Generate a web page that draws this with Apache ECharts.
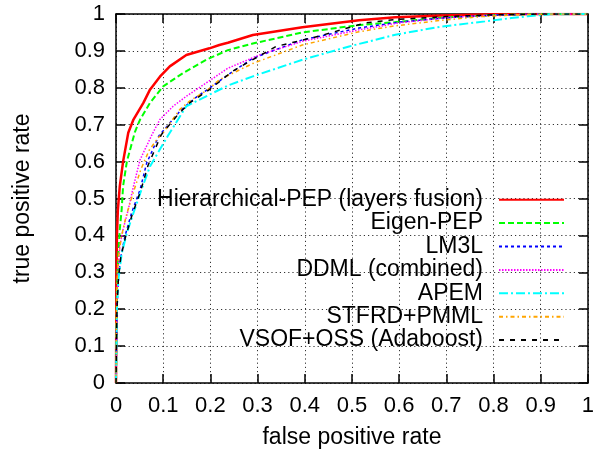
<!DOCTYPE html>
<html>
<head>
<meta charset="utf-8">
<script src="https://cdn.jsdelivr.net/npm/echarts@6/dist/echarts.min.js"></script>
<style>html,body{margin:0;padding:0;background:#fff}#c{width:597px;height:454px}</style>
</head>
<body>
<div id="c"></div>
<script>
const seriesNames = ['Hierarchical-PEP (layers fusion)', 'Eigen-PEP', 'LM3L', 'DDML (combined)', 'APEM', 'STFRD+PMML', 'VSOF+OSS (Adaboost)'];
const xTicks = [0, 0.1, 0.2, 0.3, 0.4, 0.5, 0.6, 0.7, 0.8, 0.9, 1];
const yTicks = [0, 0.1, 0.2, 0.3, 0.4, 0.5, 0.6, 0.7, 0.8, 0.9, 1];

const fprHier = [0, 0.001, 0.002, 0.004, 0.008, 0.015, 0.026, 0.037, 0.058, 0.072, 0.093, 0.114, 0.149, 0.198, 0.219, 0.237, 0.29, 0.395, 0.515, 0.592, 0.69, 0.8, 0.9, 1];
const tprHier = [0, 0.3, 0.4, 0.47, 0.533, 0.6, 0.678, 0.714, 0.759, 0.795, 0.83, 0.858, 0.889, 0.907, 0.916, 0.922, 0.943, 0.964, 0.983, 0.991, 0.996, 0.999, 1, 1];

const fprEigen = [0, 0.002, 0.005, 0.008, 0.012, 0.015, 0.023, 0.04, 0.051, 0.072, 0.1, 0.142, 0.191, 0.237, 0.29, 0.395, 0.515, 0.592, 0.69, 0.8, 0.9, 1];
const tprEigen = [0, 0.25, 0.35, 0.416, 0.47, 0.533, 0.6, 0.68, 0.714, 0.759, 0.804, 0.84, 0.876, 0.902, 0.92, 0.95, 0.97, 0.978, 0.99, 0.997, 1, 1];

const fprLM3L = [0, 0.002, 0.005, 0.01, 0.019, 0.033, 0.051, 0.065, 0.091, 0.135, 0.167, 0.198, 0.237, 0.29, 0.395, 0.515, 0.6, 0.7, 0.8, 0.9, 1];
const tprLM3L = [0, 0.2, 0.28, 0.34, 0.398, 0.461, 0.524, 0.596, 0.67, 0.736, 0.772, 0.799, 0.835, 0.88, 0.93, 0.962, 0.978, 0.99, 0.997, 1, 1];

const fprDDML = [0, 0.002, 0.004, 0.008, 0.015, 0.026, 0.037, 0.051, 0.077, 0.093, 0.121, 0.149, 0.191, 0.237, 0.304, 0.395, 0.515, 0.6, 0.7, 0.8, 0.9, 1];
const tprDDML = [0, 0.2, 0.3, 0.371, 0.416, 0.47, 0.533, 0.605, 0.675, 0.714, 0.75, 0.777, 0.813, 0.853, 0.889, 0.926, 0.957, 0.976, 0.99, 0.997, 1, 1];

const fprAPEM = [0, 0.002, 0.005, 0.012, 0.023, 0.037, 0.054, 0.072, 0.11, 0.149, 0.191, 0.237, 0.29, 0.395, 0.494, 0.592, 0.69, 0.782, 0.838, 0.873, 0.92, 1];
const tprAPEM = [0, 0.2, 0.28, 0.35, 0.407, 0.461, 0.524, 0.587, 0.67, 0.75, 0.777, 0.806, 0.831, 0.876, 0.912, 0.944, 0.966, 0.98, 0.989, 0.994, 0.999, 1];

const fprSTFRD = [0, 0.001, 0.003, 0.006, 0.012, 0.021, 0.035, 0.053, 0.07, 0.089, 0.1, 0.135, 0.156, 0.195, 0.219, 0.29, 0.395, 0.515, 0.592, 0.69, 0.774, 0.85, 0.93, 1];
const tprSTFRD = [0, 0.2, 0.3, 0.35, 0.4, 0.45, 0.51, 0.58, 0.63, 0.664, 0.678, 0.741, 0.764, 0.795, 0.822, 0.866, 0.916, 0.952, 0.968, 0.983, 0.993, 0.998, 1, 1];

const fprVSOF = [0, 0.002, 0.005, 0.01, 0.02, 0.034, 0.052, 0.068, 0.096, 0.131, 0.156, 0.198, 0.247, 0.339, 0.43, 0.529, 0.592, 0.7, 0.8, 0.9, 1];
const tprVSOF = [0, 0.2, 0.28, 0.34, 0.395, 0.455, 0.52, 0.59, 0.673, 0.727, 0.759, 0.795, 0.845, 0.912, 0.94, 0.976, 0.985, 0.993, 0.998, 1, 1];

const fprs = [fprHier, fprEigen, fprLM3L, fprDDML, fprAPEM, fprSTFRD, fprVSOF];
const tprs = [tprHier, tprEigen, tprLM3L, tprDDML, tprAPEM, tprSTFRD, tprVSOF];

const styles = [
  {color: '#ff0000', width: 2.5, type: 'solid'},
  {color: '#00ff00', width: 2, type: [6, 3]},
  {color: '#0000ff', width: 1.5, type: [3, 3]},
  {color: '#ff00ff', width: 1.5, type: [1.5, 1.5]},
  {color: '#00ffff', width: 2, type: [9, 3, 2, 3]},
  {color: '#ffa500', width: 1.5, type: [4, 3, 1.5, 3]},
  {color: '#000000', width: 1.5, type: [5, 6]}
];

const FONT = 'Liberation Sans, Arial, sans-serif';
const chart = echarts.init(document.getElementById('c'));

const series = seriesNames.map((name, i) => ({
  name: name,
  type: 'line',
  showSymbol: false,
  symbol: 'none',
  animation: false,
  data: fprs[i].map((x, j) => [x, tprs[i][j]]),
  lineStyle: {color: styles[i].color, width: styles[i].width, type: styles[i].type},
  itemStyle: {color: styles[i].color},
  z: 2 + i
}));

const gridLine = {show: true, lineStyle: {color: '#333', width: 1, type: [1.2, 3]}};

chart.setOption({
  animation: false,
  backgroundColor: '#fff',
  textStyle: {fontFamily: FONT},
  grid: {left: 116, right: 7, top: 14, bottom: 70},
  legend: {
    orient: 'vertical',
    align: 'right',
    right: 32,
    top: 188,
    padding: 0,
    itemGap: 0,
    itemWidth: 65,
    itemHeight: 14,
    selectedMode: false,
    itemStyle: {opacity: 0, borderWidth: 0},
    textStyle: {fontSize: 23, fontFamily: FONT, color: '#000', lineHeight: 23.4, padding: [0, 11, 0, 0]},
    data: seriesNames
  },
  xAxis: [{
    type: 'value', min: 0, max: 1, interval: 0.1,
    name: 'false positive rate', nameLocation: 'middle', nameGap: 43,
    nameTextStyle: {fontSize: 23, color: '#000', fontFamily: FONT},
    axisLine: {show: true, onZero: false, lineStyle: {color: '#000', width: 1.5}},
    axisTick: {show: true, inside: true, length: 9, lineStyle: {color: '#000', width: 1.5}},
    axisLabel: {fontSize: 22, color: '#000', margin: 12, fontFamily: FONT,
      formatter: v => { const t = xTicks.find(k => Math.abs(k - v) < 1e-9); return t === undefined ? '' : String(t); }},
    splitLine: gridLine
  }, {
    type: 'value', min: 0, max: 1, interval: 0.1, position: 'top',
    axisLine: {show: true, onZero: false, lineStyle: {color: '#000', width: 1.5}},
    axisTick: {show: true, inside: true, length: 9, lineStyle: {color: '#000', width: 1.5}},
    axisLabel: {show: false}, splitLine: {show: false}
  }],
  yAxis: [{
    type: 'value', min: 0, max: 1, interval: 0.1,
    name: 'true positive rate', nameLocation: 'middle', nameGap: 82, nameRotate: 90,
    nameTextStyle: {fontSize: 23, color: '#000', fontFamily: FONT},
    axisLine: {show: true, onZero: false, lineStyle: {color: '#000', width: 1.5}},
    axisTick: {show: true, inside: true, length: 9, lineStyle: {color: '#000', width: 1.5}},
    axisLabel: {fontSize: 22, color: '#000', margin: 11, fontFamily: FONT,
      formatter: v => { const t = yTicks.find(k => Math.abs(k - v) < 1e-9); return t === undefined ? '' : String(t); }},
    splitLine: gridLine
  }, {
    type: 'value', min: 0, max: 1, interval: 0.1, position: 'right',
    axisLine: {show: true, onZero: false, lineStyle: {color: '#000', width: 1.5}},
    axisTick: {show: true, inside: true, length: 9, lineStyle: {color: '#000', width: 1.5}},
    axisLabel: {show: false}, splitLine: {show: false}
  }],
  series: series
});
</script>
</body>
</html>
